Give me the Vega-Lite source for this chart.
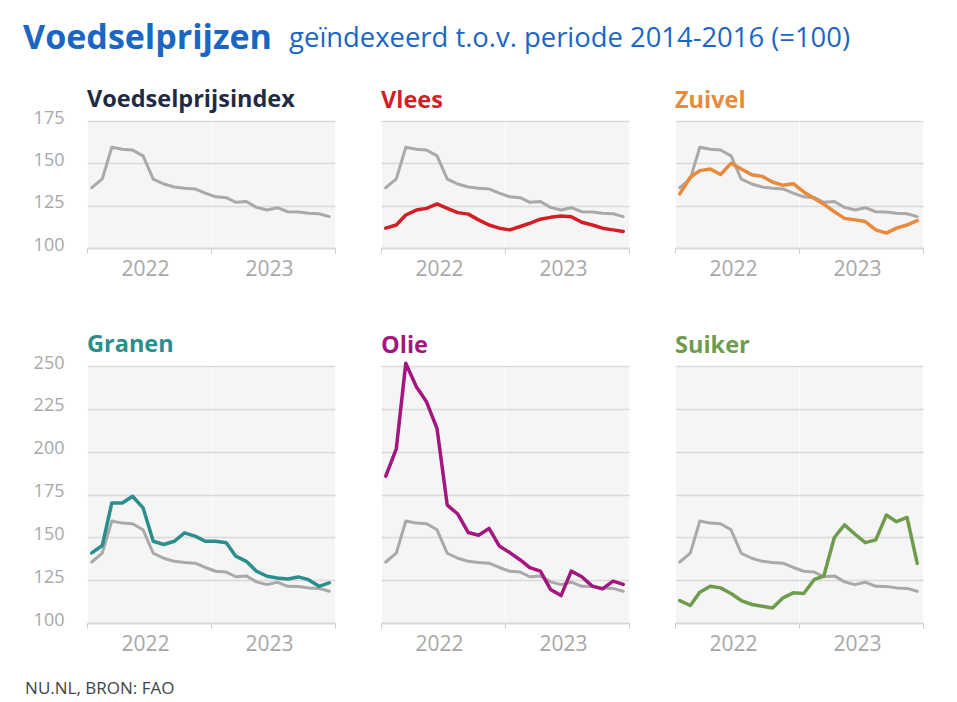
{
  "$schema": "https://vega.github.io/schema/vega-lite/v6.json",
  "background": "#ffffff",
  "padding": {"left": 23, "top": 22, "right": 10, "bottom": 0},
  "datasets": {
    "fao": [
      {"date": "2022-01-15", "index": 135.6, "vlees": 111.7, "zuivel": 132.0, "granen": 140.9, "olie": 185.7, "suiker": 113.1},
      {"date": "2022-02-15", "index": 140.8, "vlees": 113.6, "zuivel": 141.8, "granen": 145.2, "olie": 201.7, "suiker": 110.2},
      {"date": "2022-03-15", "index": 159.5, "vlees": 119.5, "zuivel": 145.7, "granen": 170.1, "olie": 251.6, "suiker": 118.0},
      {"date": "2022-04-15", "index": 158.3, "vlees": 122.4, "zuivel": 146.7, "granen": 170.0, "olie": 237.9, "suiker": 121.5},
      {"date": "2022-05-15", "index": 157.9, "vlees": 123.4, "zuivel": 143.4, "granen": 174.0, "olie": 229.1, "suiker": 120.5},
      {"date": "2022-06-15", "index": 154.4, "vlees": 126.0, "zuivel": 150.0, "granen": 167.2, "olie": 213.4, "suiker": 117.2},
      {"date": "2022-07-15", "index": 140.7, "vlees": 123.4, "zuivel": 146.7, "granen": 147.7, "olie": 168.8, "suiker": 113.1},
      {"date": "2022-08-15", "index": 137.8, "vlees": 120.9, "zuivel": 143.2, "granen": 145.8, "olie": 163.6, "suiker": 110.8},
      {"date": "2022-09-15", "index": 136.0, "vlees": 120.0, "zuivel": 142.3, "granen": 147.7, "olie": 152.8, "suiker": 109.8},
      {"date": "2022-10-15", "index": 135.3, "vlees": 116.6, "zuivel": 139.0, "granen": 152.6, "olie": 151.2, "suiker": 108.8},
      {"date": "2022-11-15", "index": 134.9, "vlees": 113.6, "zuivel": 137.0, "granen": 150.7, "olie": 155.2, "suiker": 114.7},
      {"date": "2022-12-15", "index": 132.4, "vlees": 111.7, "zuivel": 138.0, "granen": 147.7, "olie": 145.0, "suiker": 117.6},
      {"date": "2023-01-15", "index": 130.2, "vlees": 110.7, "zuivel": 133.1, "granen": 147.7, "olie": 141.1, "suiker": 117.2},
      {"date": "2023-02-15", "index": 129.7, "vlees": 112.7, "zuivel": 129.2, "granen": 146.8, "olie": 136.8, "suiker": 125.4},
      {"date": "2023-03-15", "index": 127.0, "vlees": 114.6, "zuivel": 125.9, "granen": 139.0, "olie": 132.3, "suiker": 127.4},
      {"date": "2023-04-15", "index": 127.5, "vlees": 117.0, "zuivel": 121.4, "granen": 136.0, "olie": 130.3, "suiker": 149.9},
      {"date": "2023-05-15", "index": 124.0, "vlees": 118.1, "zuivel": 117.5, "granen": 130.2, "olie": 119.6, "suiker": 157.3},
      {"date": "2023-06-15", "index": 122.4, "vlees": 118.9, "zuivel": 116.6, "granen": 127.3, "olie": 116.0, "suiker": 151.8},
      {"date": "2023-07-15", "index": 123.8, "vlees": 118.5, "zuivel": 115.6, "granen": 126.3, "olie": 130.3, "suiker": 146.9},
      {"date": "2023-08-15", "index": 121.4, "vlees": 115.2, "zuivel": 110.7, "granen": 125.7, "olie": 127.0, "suiker": 148.5},
      {"date": "2023-09-15", "index": 121.3, "vlees": 113.6, "zuivel": 108.8, "granen": 126.9, "olie": 121.5, "suiker": 163.0},
      {"date": "2023-10-15", "index": 120.5, "vlees": 111.7, "zuivel": 111.7, "granen": 125.3, "olie": 119.9, "suiker": 159.1},
      {"date": "2023-11-15", "index": 120.2, "vlees": 110.7, "zuivel": 113.6, "granen": 121.4, "olie": 124.4, "suiker": 161.6},
      {"date": "2023-12-15", "index": 118.5, "vlees": 109.7, "zuivel": 116.2, "granen": 123.4, "olie": 122.5, "suiker": 134.8}
    ]
  },
  "title": {
    "text": "NU.NL, BRON: FAO",
    "orient": "bottom",
    "anchor": "start",
    "frame": "bounds",
    "fontSize": 17,
    "fontWeight": "normal",
    "color": "#444444",
    "dx": 2,
    "offset": 27
  },
  "vconcat": [
    {
      "title": {
        "text": "Voedselprijzen",
        "anchor": "start",
        "frame": "bounds",
        "fontSize": 34,
        "fontWeight": "bold",
        "color": "#1a66c2",
        "dx": -10,
        "offset": -31
      },
      "vconcat": [
        {
          "title": {
            "text": "geïndexeerd t.o.v. periode 2014-2016 (=100)",
            "anchor": "start",
            "frame": "bounds",
            "fontSize": 27.4,
            "fontWeight": "normal",
            "color": "#1a66c2",
            "dx": 256,
            "offset": 35.6
          },
          "spacing": 54,
          "vconcat": [
            {
              "bounds": "flush",
              "spacing": 46,
              "resolve": {"scale": {"y": "independent"}},
              "hconcat": [
                {
                  "width": 248, "height": 127,
                  "title": {"text": "Voedselprijsindex", "color": "#1f2a44", "offset": -2.5},
                  "data": {"name": "fao"},
                  "encoding": {
                    "x": {"field": "date", "type": "temporal",
                      "scale": {"type": "utc", "domain": [{"year": 2022, "month": 1, "date": 1, "utc": true}, {"year": 2024, "month": 1, "date": 1, "utc": true}]},
                      "axis": {"values": [{"year": 2022, "month": 1, "date": 1, "utc": true}, {"year": 2023, "month": 1, "date": 1, "utc": true}, {"year": 2024, "month": 1, "date": 1, "utc": true}],
                        "labelExpr": "utcyear(datum.value) >= 2024 ? '' : utcFormat(datum.value, '%Y')", "title": null}}
                  },
                  "layer": [
                    {"mark": {"type": "line", "color": "#a9a9a9", "strokeWidth": 3},
                     "encoding": {"y": {"field": "index", "type": "quantitative", "scale": {"domain": [100, 175], "nice": false},
                       "axis": {"values": [100, 125, 150, 175], "title": null}}}}
                  ]
                },
                {
                  "width": 248, "height": 127,
                  "title": {"text": "Vlees", "color": "#d21f26"},
                  "data": {"name": "fao"},
                  "encoding": {
                    "x": {"field": "date", "type": "temporal",
                      "scale": {"type": "utc", "domain": [{"year": 2022, "month": 1, "date": 1, "utc": true}, {"year": 2024, "month": 1, "date": 1, "utc": true}]},
                      "axis": {"values": [{"year": 2022, "month": 1, "date": 1, "utc": true}, {"year": 2023, "month": 1, "date": 1, "utc": true}, {"year": 2024, "month": 1, "date": 1, "utc": true}],
                        "labelExpr": "utcyear(datum.value) >= 2024 ? '' : utcFormat(datum.value, '%Y')", "title": null}}
                  },
                  "layer": [
                    {"mark": {"type": "line", "color": "#a9a9a9", "strokeWidth": 3},
                     "encoding": {"y": {"field": "index", "type": "quantitative", "scale": {"domain": [100, 175], "nice": false},
                       "axis": {"values": [100, 125, 150, 175], "title": null, "labels": false, "labelPadding": 0}}}},
                    {"mark": {"type": "line", "color": "#d21f26", "strokeWidth": 3.5},
                     "encoding": {"y": {"field": "vlees", "type": "quantitative", "scale": {"domain": [100, 175], "nice": false}}}}
                  ]
                },
                {
                  "width": 248, "height": 127,
                  "title": {"text": "Zuivel", "color": "#e8893b"},
                  "data": {"name": "fao"},
                  "encoding": {
                    "x": {"field": "date", "type": "temporal",
                      "scale": {"type": "utc", "domain": [{"year": 2022, "month": 1, "date": 1, "utc": true}, {"year": 2024, "month": 1, "date": 1, "utc": true}]},
                      "axis": {"values": [{"year": 2022, "month": 1, "date": 1, "utc": true}, {"year": 2023, "month": 1, "date": 1, "utc": true}, {"year": 2024, "month": 1, "date": 1, "utc": true}],
                        "labelExpr": "utcyear(datum.value) >= 2024 ? '' : utcFormat(datum.value, '%Y')", "title": null}}
                  },
                  "layer": [
                    {"mark": {"type": "line", "color": "#a9a9a9", "strokeWidth": 3},
                     "encoding": {"y": {"field": "index", "type": "quantitative", "scale": {"domain": [100, 175], "nice": false},
                       "axis": {"values": [100, 125, 150, 175], "title": null, "labels": false, "labelPadding": 0}}}},
                    {"mark": {"type": "line", "color": "#e8893b", "strokeWidth": 3.5},
                     "encoding": {"y": {"field": "zuivel", "type": "quantitative", "scale": {"domain": [100, 175], "nice": false}}}}
                  ]
                }
              ]
            },
            {
              "bounds": "flush",
              "spacing": 46,
              "resolve": {"scale": {"y": "independent"}},
              "hconcat": [
                {
                  "width": 248, "height": 257,
                  "title": {"text": "Granen", "color": "#2a8f8c", "offset": -2.5},
                  "data": {"name": "fao"},
                  "encoding": {
                    "x": {"field": "date", "type": "temporal",
                      "scale": {"type": "utc", "domain": [{"year": 2022, "month": 1, "date": 1, "utc": true}, {"year": 2024, "month": 1, "date": 1, "utc": true}]},
                      "axis": {"values": [{"year": 2022, "month": 1, "date": 1, "utc": true}, {"year": 2023, "month": 1, "date": 1, "utc": true}, {"year": 2024, "month": 1, "date": 1, "utc": true}],
                        "labelExpr": "utcyear(datum.value) >= 2024 ? '' : utcFormat(datum.value, '%Y')", "title": null}}
                  },
                  "layer": [
                    {"mark": {"type": "line", "color": "#a9a9a9", "strokeWidth": 3},
                     "encoding": {"y": {"field": "index", "type": "quantitative", "scale": {"domain": [100, 250], "nice": false},
                       "axis": {"values": [100, 125, 150, 175, 200, 225, 250], "title": null}}}},
                    {"mark": {"type": "line", "color": "#2a8f8c", "strokeWidth": 3.5},
                     "encoding": {"y": {"field": "granen", "type": "quantitative", "scale": {"domain": [100, 250], "nice": false}}}}
                  ]
                },
                {
                  "width": 248, "height": 257,
                  "title": {"text": "Olie", "color": "#a3167f", "offset": 4},
                  "data": {"name": "fao"},
                  "encoding": {
                    "x": {"field": "date", "type": "temporal",
                      "scale": {"type": "utc", "domain": [{"year": 2022, "month": 1, "date": 1, "utc": true}, {"year": 2024, "month": 1, "date": 1, "utc": true}]},
                      "axis": {"values": [{"year": 2022, "month": 1, "date": 1, "utc": true}, {"year": 2023, "month": 1, "date": 1, "utc": true}, {"year": 2024, "month": 1, "date": 1, "utc": true}],
                        "labelExpr": "utcyear(datum.value) >= 2024 ? '' : utcFormat(datum.value, '%Y')", "title": null}}
                  },
                  "layer": [
                    {"mark": {"type": "line", "color": "#a9a9a9", "strokeWidth": 3},
                     "encoding": {"y": {"field": "index", "type": "quantitative", "scale": {"domain": [100, 250], "nice": false},
                       "axis": {"values": [100, 125, 150, 175, 200, 225, 250], "title": null, "labels": false, "labelPadding": 0}}}},
                    {"mark": {"type": "line", "color": "#a3167f", "strokeWidth": 3.5, "clip": false},
                     "encoding": {"y": {"field": "olie", "type": "quantitative", "scale": {"domain": [100, 250], "nice": false}}}}
                  ]
                },
                {
                  "width": 248, "height": 257,
                  "title": {"text": "Suiker", "color": "#6f9c4c"},
                  "data": {"name": "fao"},
                  "encoding": {
                    "x": {"field": "date", "type": "temporal",
                      "scale": {"type": "utc", "domain": [{"year": 2022, "month": 1, "date": 1, "utc": true}, {"year": 2024, "month": 1, "date": 1, "utc": true}]},
                      "axis": {"values": [{"year": 2022, "month": 1, "date": 1, "utc": true}, {"year": 2023, "month": 1, "date": 1, "utc": true}, {"year": 2024, "month": 1, "date": 1, "utc": true}],
                        "labelExpr": "utcyear(datum.value) >= 2024 ? '' : utcFormat(datum.value, '%Y')", "title": null}}
                  },
                  "layer": [
                    {"mark": {"type": "line", "color": "#a9a9a9", "strokeWidth": 3},
                     "encoding": {"y": {"field": "index", "type": "quantitative", "scale": {"domain": [100, 250], "nice": false},
                       "axis": {"values": [100, 125, 150, 175, 200, 225, 250], "title": null, "labels": false, "labelPadding": 0}}}},
                    {"mark": {"type": "line", "color": "#6f9c4c", "strokeWidth": 3.5},
                     "encoding": {"y": {"field": "suiker", "type": "quantitative", "scale": {"domain": [100, 250], "nice": false}}}}
                  ]
                }
              ]
            }
          ]
        }
      ]
    }
  ],
  "config": {
    "font": "Open Sans",
    "view": {"fill": "#f5f5f5", "stroke": null},
    "title": {"anchor": "start", "frame": "group", "fontSize": 23.5, "fontWeight": "bold", "offset": 8.5, "font": "Open Sans"},
    "axisY": {"gridColor": "#dadada", "gridWidth": 1.5, "domain": false, "ticks": false, "labelFontSize": 18, "labelColor": "#a8a8a8", "labelPadding": 23, "labelOffset": -3, "labelFont": "Open Sans"},
    "axisX": {"grid": true, "gridColor": "#ffffff", "gridWidth": 1, "domainColor": "#d8d8d8", "domainWidth": 1.5, "tickColor": "#cccccc", "tickSize": 5, "labelFontSize": 21, "labelColor": "#a8a8a8", "labelPadding": 5, "labelOffset": 58, "labelAlign": "center", "labelFlush": false, "labelBound": false, "labelOverlap": false, "labelFont": "Open Sans"},
    "line": {"strokeJoin": "round", "strokeCap": "round"}
  }
}
